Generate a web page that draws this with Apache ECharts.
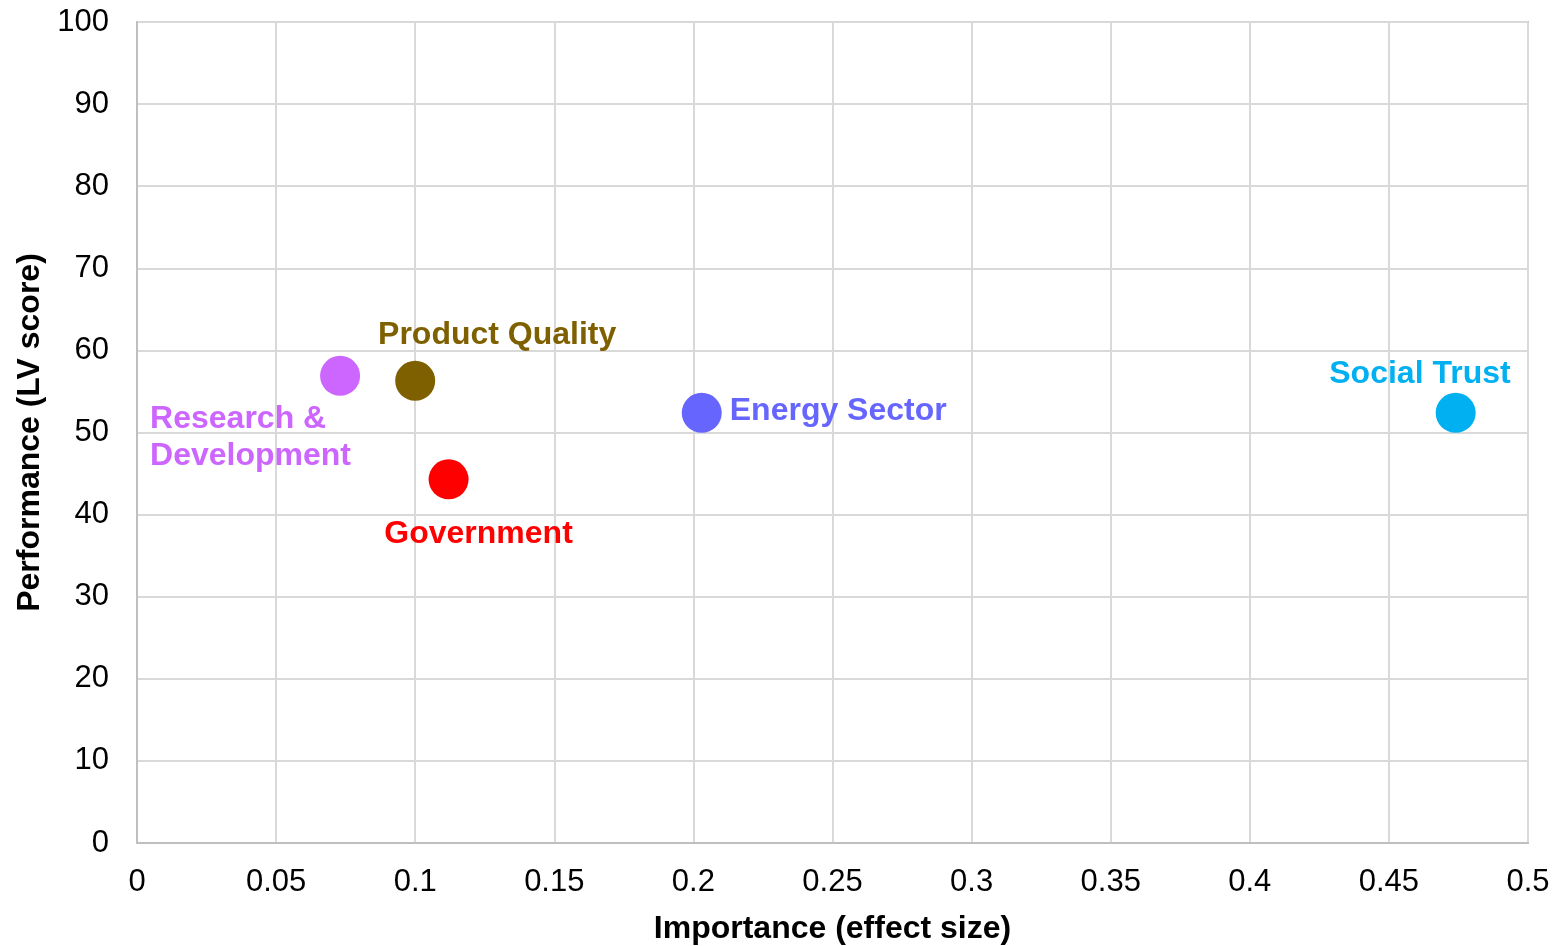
<!DOCTYPE html>
<html>
<head>
<meta charset="utf-8">
<script src="https://cdn.jsdelivr.net/npm/echarts@6/dist/echarts.min.js"></script>
<style>
  html, body { margin: 0; padding: 0; background: #fff; }
  #chart { width: 1557px; height: 946px; }
</style>
</head>
<body>
<div id="chart"></div>
<script>
// 重要度-パフォーマンス散布図
const names = ['Research &\nDevelopment', 'Product Quality', 'Government', 'Energy Sector', 'Social Trust'];
const importance = [0.073, 0.100, 0.112, 0.203, 0.474];
const performance = [56.9, 56.3, 44.3, 52.4, 52.4];

// 色とラベル位置（スタイル）
const colors = ['#CC66FF', '#7F6000', '#FF0000', '#6666FF', '#00B0F0'];
const labelPos = [
  { position: [-170, 45], align: 'left', verticalAlign: 'top' },
  { position: [102, -26], align: 'center', verticalAlign: 'middle' },
  { position: [50, 75], align: 'center', verticalAlign: 'middle' },
  { position: [48, 18], align: 'left', verticalAlign: 'middle' },
  { position: [75, -19], align: 'right', verticalAlign: 'middle' }
];

const font = '"Liberation Sans", Arial, sans-serif';
const chart = echarts.init(document.getElementById('chart'));

const data = names.map((n, i) => ({
  name: n,
  value: [importance[i], performance[i]],
  itemStyle: { color: colors[i], opacity: 1 },
  label: {
    show: true,
    formatter: '{b}',
    color: colors[i],
    opacity: 1,
    fontFamily: font,
    fontWeight: 'bold',
    fontSize: 32,
    lineHeight: 37,
    position: labelPos[i].position,
    align: labelPos[i].align,
    verticalAlign: labelPos[i].verticalAlign
  }
}));

const option = {
  animation: false,
  grid: {
    left: 137, right: 29, top: 22, bottom: 103,
    containLabel: false,
    outerBoundsMode: 'none',
    show: true, borderColor: '#BFBFBF', borderWidth: 2
  },
  xAxis: {
    type: 'value',
    min: 0, max: 0.5, interval: 0.05,
    name: 'Importance (effect size)',
    nameLocation: 'middle',
    nameGap: 70,
    nameTextStyle: { fontFamily: font, fontWeight: 'bold', fontSize: 32, color: '#000' },
    axisLine: { show: true, lineStyle: { color: '#BFBFBF', width: 2 } },
    axisTick: { show: false },
    axisLabel: {
      fontFamily: font, fontSize: 31, color: '#000', margin: 24,
      formatter: v => String(parseFloat(v.toFixed(2)))
    },
    splitLine: { show: true, lineStyle: { color: '#D9D9D9', width: 2 } }
  },
  yAxis: {
    type: 'value',
    min: 0, max: 100, interval: 10,
    name: 'Performance (LV score)',
    nameLocation: 'middle',
    nameGap: 89,
    nameTextStyle: { fontFamily: font, fontWeight: 'bold', fontSize: 32, color: '#000' },
    axisLine: { show: true, lineStyle: { color: '#BFBFBF', width: 2 } },
    axisTick: { show: false },
    axisLabel: { fontFamily: font, fontSize: 31, color: '#000', margin: 28 },
    splitLine: { show: true, lineStyle: { color: '#D9D9D9', width: 2 } }
  },
  series: [{
    type: 'scatter',
    symbol: 'circle',
    symbolSize: 40,
    itemStyle: { opacity: 1 },
    data: data
  }]
};

chart.setOption(option);
</script>
</body>
</html>
